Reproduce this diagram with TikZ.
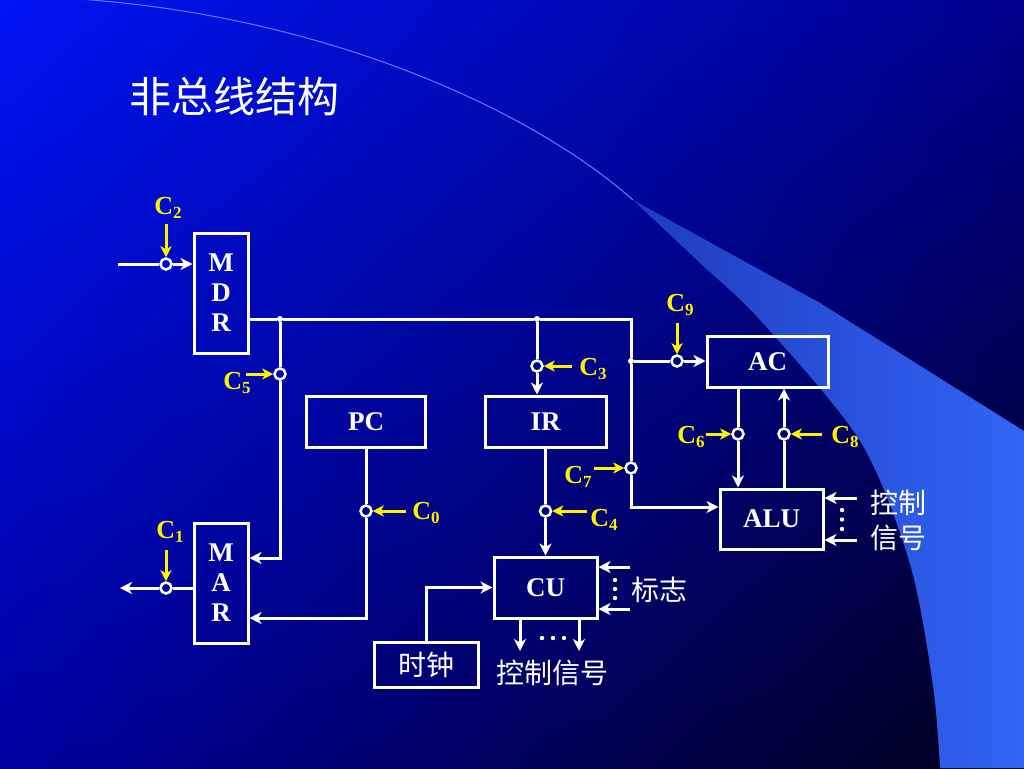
\documentclass[tikz,border=0pt]{standalone}
\usepackage{fontspec}
\setmainfont{Liberation Serif}
\newfontfamily\cjk{Noto Sans CJK SC}
\usetikzlibrary{arrows.meta,shadings}
\definecolor{wedgelight}{RGB}{50,100,245}
\definecolor{wedgedark}{RGB}{30,60,190}
\definecolor{arcline}{RGB}{90,130,255}
\definecolor{bgul}{RGB}{0,20,245}
\definecolor{bgur}{RGB}{0,0,140}
\definecolor{bgll}{RGB}{0,0,160}
\definecolor{bglr}{RGB}{0,0,25}
\tikzset{
    box/.style={draw=white, line width=3pt, text=white, inner sep=0pt,
                font=\fontsize{27}{30}\selectfont\bfseries},
    sw/.style={circle, draw=white, line width=2.5pt, minimum size=11pt, inner sep=0pt},
    jdot/.style={circle, fill=white, minimum size=6pt, inner sep=0pt},
    wire/.style={draw=white, line width=3pt},
    wirea/.style={wire, -{Stealth[length=12pt,width=12pt,inset=3.5pt]}},
    ctl/.style={draw=yellow, line width=3pt, -{Stealth[length=11pt,width=11pt,inset=3pt]}},
    clab/.style={text=yellow, inner sep=0pt, font=\fontsize{26}{26}\selectfont\bfseries},
    zh/.style={text=white, inner sep=0pt, font=\cjk\fontsize{28}{30}\selectfont},
}
\newcommand{\csub}[1]{C\raisebox{-4pt}{\fontsize{17}{17}\selectfont #1}}
\begin{document}
\begin{tikzpicture}[x=1pt,y=-1pt]
    % \helpgrid
    \shade[upper left=bgul, upper right=bgur, lower left=bgll, lower right=bglr]
           (0,0) rectangle (1024,768);
    \useasboundingbox (0,0) rectangle (1024,768);

    \shade[left color=wedgedark, middle color=wedgelight, right color=wedgelight]
        plot[smooth] coordinates {(633,200) (700,263) (760,320) (860,441) (910,564) (933,686) (940,768)}
        -- (1024,768) -- (1024,431) -- (820,303) -- cycle;
    \draw[arcline, line width=1pt] (60,-2) .. controls (300,10) and (520,100) .. (633,200);

    \node[zh, font=\cjk\fontsize{42}{42}\selectfont] (title) at (234,97) {非总线结构};

    % registers
    \node[box, minimum width=54, minimum height=120, align=center] (mdr) at (221,293) {M\\D\\R};
    \node[box, minimum width=54, minimum height=120, align=center] (mar) at (221,583) {M\\A\\R};
    \node[box, minimum width=119, minimum height=51] (pc) at (366,421.5) {PC};
    \node[box, minimum width=121, minimum height=51] (ir) at (545.5,421.5) {IR};
    \node[box, minimum width=121, minimum height=51] (ac) at (767.5,361.5) {AC};
    \node[box, minimum width=103, minimum height=60] (alu) at (771.5,519) {ALU};
    \node[box, minimum width=103, minimum height=61] (cu) at (545.5,587.5) {CU};
    \node[box, font=\cjk\fontsize{28}{30}\selectfont, minimum width=104, minimum height=45] (clk) at (426,664.5) {时钟};

    % gates
    \node[sw] (s0) at (366,511) {};
    \node[sw] (s1) at (166,588) {};
    \node[sw] (s2) at (166,264) {};
    \node[sw] (s3) at (537,366) {};
    \node[sw] (s4) at (545.5,511) {};
    \node[sw] (s5) at (280,374) {};
    \node[sw] (s6) at (738,434) {};
    \node[sw] (s7) at (631,468) {};
    \node[sw] (s8) at (784,434) {};
    \node[sw] (s9) at (677,361) {};

    \node[jdot] (j1) at (280,319) {};
    \node[jdot] (j2) at (537,319) {};
    \node[jdot] (j3) at (631,361) {};

    \coordinate (mdrin) at (118,264);
    \coordinate (marout) at (120,588);
    \coordinate (bus) at (631,319);
    \coordinate (alin) at (631,507);
    \coordinate (m1) at (280,558);
    \coordinate (m2) at (366,618);
    \coordinate (ck) at (426,587.5);
    \coordinate (fl1) at (630,567);
    \coordinate (fl2) at (630,609);
    \coordinate (o1) at (520,651);
    \coordinate (o2) at (579,651);
    \coordinate (al1) at (857,498);
    \coordinate (al2) at (857,540);

    % data paths
    \draw[wire] (mdrin) -- (s2);
    \draw[wirea] (s2) -- (s2 -| mdr.west);
    \draw[wire] (mdr.east |- j1) -- (j1) -- (j2) -- (bus) -- (j3) -- (s7);
    \draw[wirea] (s7) -- (alin) -- (alin -| alu.west);
    \draw[wire] (j1) -- (s5);
    \draw[wirea] (s5) -- (m1) -- (m1 -| mar.east);
    \draw[wire] (pc) -- (s0);
    \draw[wirea] (s0) -- (m2) -- (m2 -| mar.east);
    \draw[wire] (j2) -- (s3);
    \draw[wirea] (s3) -- (s3 |- ir.north);
    \draw[wire] (j3) -- (s9);
    \draw[wirea] (s9) -- (s9 -| ac.west);
    \draw[wire] (ir) -- (s4);
    \draw[wirea] (s4) -- (s4 |- cu.north);
    \draw[wire] (s6 |- ac.south) -- (s6);
    \draw[wirea] (s6) -- (s6 |- alu.north);
    \draw[wire] (s8 |- alu.north) -- (s8);
    \draw[wirea] (s8) -- (s8 |- ac.south);
    \draw[wire] (mar.west |- s1) -- (s1);
    \draw[wirea] (s1) -- (marout);
    \draw[wirea] (clk.north) -- (ck) -- (cu.west);
    \draw[wirea] (fl1) -- (fl1 -| cu.east);
    \draw[wirea] (fl2) -- (fl2 -| cu.east);
    \draw[wirea] (o1 |- cu.south) -- (o1);
    \draw[wirea] (o2 |- cu.south) -- (o2);
    \draw[wirea] (al1) -- (al1 -| alu.east);
    \draw[wirea] (al2) -- (al2 -| alu.east);

    % control signals
    \draw[ctl] ([yshift=40pt]s2.center) -- (s2);
    \draw[ctl] ([yshift=38pt]s1.center) -- (s1);
    \draw[ctl] ([xshift=-34pt]s5.center) -- (s5);
    \draw[ctl] ([xshift=40pt]s0.center) -- (s0);
    \draw[ctl] ([xshift=35pt]s3.center) -- (s3);
    \draw[ctl] ([xshift=41pt]s4.center) -- (s4);
    \draw[ctl] ([xshift=-37pt]s7.center) -- (s7);
    \draw[ctl] ([yshift=38pt]s9.center) -- (s9);
    \draw[ctl] ([xshift=-32pt]s6.center) -- (s6);
    \draw[ctl] ([xshift=38pt]s8.center) -- (s8);

    \node[clab] (l0) at (426,513) {\csub{0}};
    \node[clab] (l1) at (170,532) {\csub{1}};
    \node[clab] (l2) at (168,208) {\csub{2}};
    \node[clab] (l3) at (593,369) {\csub{3}};
    \node[clab] (l4) at (604,520) {\csub{4}};
    \node[clab] (l5) at (237,383) {\csub{5}};
    \node[clab] (l6) at (691,437) {\csub{6}};
    \node[clab] (l7) at (578,477) {\csub{7}};
    \node[clab] (l8) at (845,437) {\csub{8}};
    \node[clab] (l9) at (680,305) {\csub{9}};

    % other texts
    \node[zh] (flag) at (659,590) {标志};
    \node[zh] (alusig1) at (898,503) {控制};
    \node[zh] (alusig2) at (898,538) {信号};
    \node[zh] (cusig) at (552,673) {控制信号};

    \foreach \y in {580,589,598} \fill[white] (615,\y) circle (2.2pt);
    \foreach \y in {510,519.5,529} \fill[white] (842,\y) circle (2.2pt);
    \foreach \x in {542,553,564} \fill[white] (\x,638) circle (2.2pt);
\end{tikzpicture}
\end{document}
